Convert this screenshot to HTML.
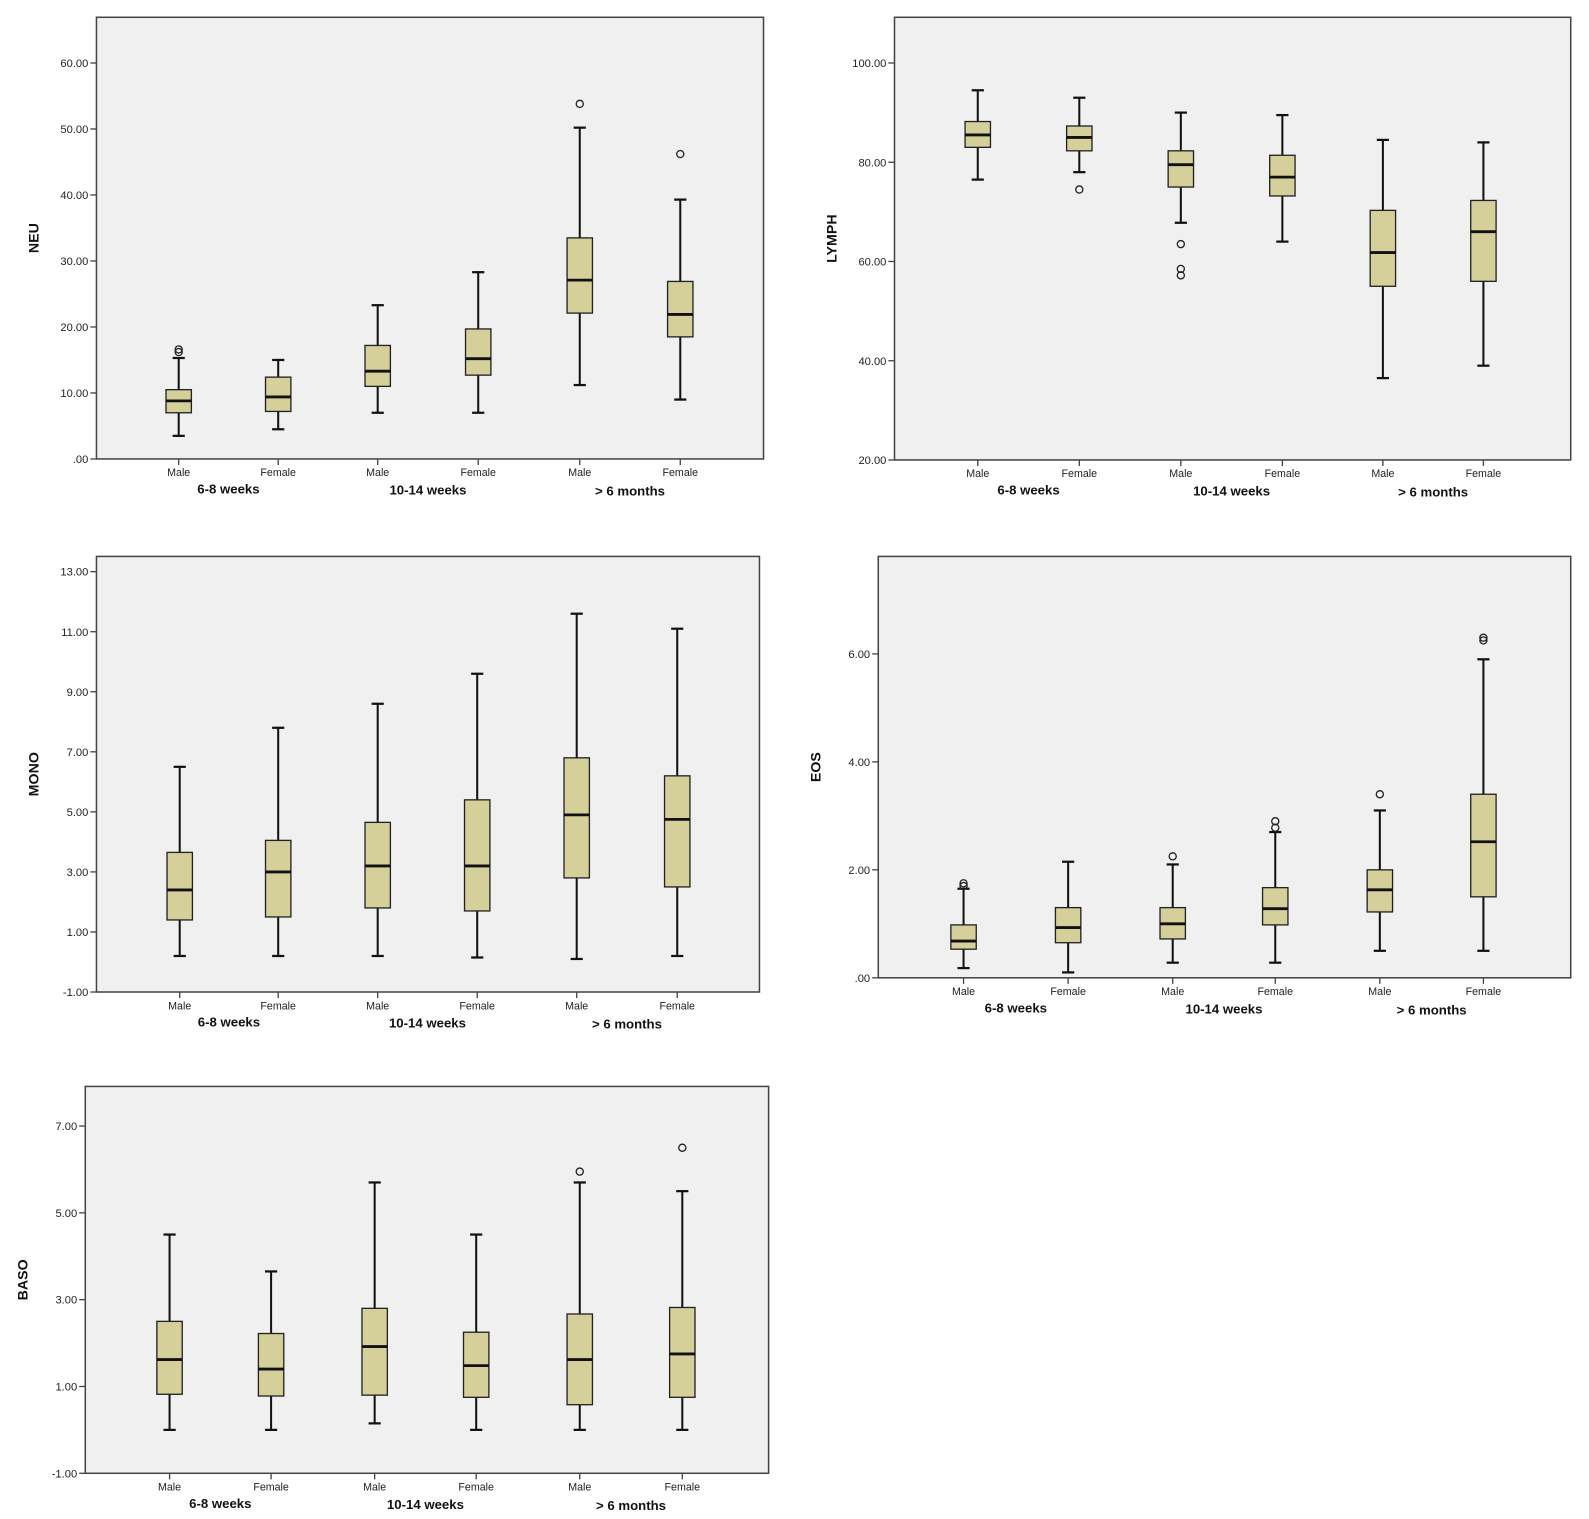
<!DOCTYPE html>
<html><head><meta charset="utf-8">
<style>
html,body{margin:0;padding:0;background:#fff;}
svg{display:block;}
text{font-family:"Liberation Sans",Arial,sans-serif;}
</style></head>
<body>
<svg id="root" width="1589" height="1519" viewBox="0 0 1565 1496" xmlns="http://www.w3.org/2000/svg"></svg>
<script>
// ---- data ----
const categories = ["Male","Female","Male","Female","Male","Female"];
const groups = ["6-8 weeks","10-14 weeks","> 6 months"];

const neuLow  = [3.5, 4.5, 7, 7, 11.2, 9];
const neuQ1   = [7, 7.2, 11, 12.7, 22.1, 18.5];
const neuMed  = [8.8, 9.4, 13.3, 15.2, 27.1, 21.9];
const neuQ3   = [10.5, 12.4, 17.2, 19.7, 33.5, 26.9];
const neuHigh = [15.3, 15, 23.3, 28.3, 50.2, 39.3];
const neuOut  = [[16.2,16.6],[],[],[],[53.8],[46.2]];
const neuTicks = [0,10,20,30,40,50,60];
const neuTickLabels = [".00","10.00","20.00","30.00","40.00","50.00","60.00"];

const lymLow  = [76.5, 78, 67.8, 64, 36.5, 39];
const lymQ1   = [83, 82.3, 75, 73.2, 55, 56];
const lymMed  = [85.5, 85, 79.5, 77, 61.8, 66];
const lymQ3   = [88.2, 87.3, 82.3, 81.4, 70.3, 72.3];
const lymHigh = [94.5, 93, 90, 89.5, 84.5, 84];
const lymOut  = [[],[74.5],[63.5,58.5,57.2],[],[],[]];
const lymTicks = [20,40,60,80,100];
const lymTickLabels = ["20.00","40.00","60.00","80.00","100.00"];

const monLow  = [0.2, 0.2, 0.2, 0.15, 0.1, 0.2];
const monQ1   = [1.4, 1.5, 1.8, 1.7, 2.8, 2.5];
const monMed  = [2.4, 3.0, 3.2, 3.2, 4.9, 4.75];
const monQ3   = [3.65, 4.05, 4.65, 5.4, 6.8, 6.2];
const monHigh = [6.5, 7.8, 8.6, 9.6, 11.6, 11.1];
const monOut  = [[],[],[],[],[],[]];
const monTicks = [-1,1,3,5,7,9,11,13];
const monTickLabels = ["-1.00","1.00","3.00","5.00","7.00","9.00","11.00","13.00"];

const eosLow  = [0.18, 0.1, 0.28, 0.28, 0.5, 0.5];
const eosQ1   = [0.53, 0.65, 0.72, 0.98, 1.22, 1.5];
const eosMed  = [0.68, 0.93, 1.0, 1.28, 1.63, 2.52];
const eosQ3   = [0.98, 1.3, 1.3, 1.67, 2.0, 3.4];
const eosHigh = [1.65, 2.15, 2.1, 2.7, 3.1, 5.9];
const eosOut  = [[1.7,1.75],[],[2.25],[2.78,2.9],[3.4],[6.25,6.3]];
const eosTicks = [0,2,4,6];
const eosTickLabels = [".00","2.00","4.00","6.00"];

const basLow  = [0, 0, 0.15, 0, 0, 0];
const basQ1   = [0.82, 0.78, 0.8, 0.75, 0.58, 0.75];
const basMed  = [1.62, 1.4, 1.92, 1.48, 1.62, 1.75];
const basQ3   = [2.5, 2.22, 2.8, 2.25, 2.67, 2.82];
const basHigh = [4.5, 3.65, 5.7, 4.5, 5.7, 5.5];
const basOut  = [[],[],[],[],[5.95],[6.5]];
const basTicks = [-1,1,3,5,7];
const basTickLabels = ["-1.00","1.00","3.00","5.00","7.00"];

// ---- layout (not data) ----
const NS = "http://www.w3.org/2000/svg";
const root = document.getElementById("root");
function el(tag, attrs, parent){
  const e = document.createElementNS(NS, tag);
  for (const k in attrs) e.setAttribute(k, attrs[k]);
  (parent||root).appendChild(e);
  return e;
}

function panel(cfg){
  const g = el("g", {});
  
  
  const y = v => cfg.y0 + (v - cfg.v0) * (cfg.y1 - cfg.y0) / (cfg.v1 - cfg.v0);
  const xc = i => cfg.x0 + (cfg.x1 - cfg.x0) * (cfg.cx[i]);
  const frame = el("rect", {x:cfg.x0, y:cfg.top, width:cfg.x1-cfg.x0, height:cfg.y0-cfg.top, fill:"#f0f0f0", stroke:"#444", "stroke-width":1.5}, g);
  
  
  // y ticks
  cfg.ticks.forEach((t, i) => {
    const ty = y(t);
    el("line", {x1:cfg.x0-6, x2:cfg.x0, y1:ty, y2:ty, stroke:"#444", "stroke-width":1.3}, g);
    const tx = el("text", {x:cfg.x0-8, y:ty+4, "text-anchor":"end", "font-size":11, fill:"#222"}, g);
    tx.textContent = cfg.tickLabels[i];
    
    
  });
  // y title
  const yt = el("text", {x:0, y:0, "font-size":14, "font-weight":"bold", "text-anchor":"middle", fill:"#111",
    transform:`translate(${cfg.x0-57},${(cfg.top+cfg.y0)/2}) rotate(-90)`}, g);
  yt.textContent = cfg.title;
  
  
  // boxes
  categories.forEach((c, i) => {
    const x = xc(i), w = 12.5;
    el("line", {x1:x, x2:x, y1:cfg.y0, y2:cfg.y0+6, stroke:"#444", "stroke-width":1.3}, g);
    const cl = el("text", {x:x, y:cfg.y0+17, "text-anchor":"middle", "font-size":10.5, fill:"#222"}, g);
    cl.textContent = c;
    
    
    const bg = el("g", {}, g);
    
    
    el("line", {x1:x, x2:x, y1:y(cfg.high[i]), y2:y(cfg.q3[i]), stroke:"#111", "stroke-width":2}, bg);
    el("line", {x1:x, x2:x, y1:y(cfg.q1[i]), y2:y(cfg.low[i]), stroke:"#111", "stroke-width":2}, bg);
    el("line", {x1:x-6, x2:x+6, y1:y(cfg.high[i]), y2:y(cfg.high[i]), stroke:"#111", "stroke-width":2.2}, bg);
    el("line", {x1:x-6, x2:x+6, y1:y(cfg.low[i]), y2:y(cfg.low[i]), stroke:"#111", "stroke-width":2.2}, bg);
    el("rect", {x:x-w, y:y(cfg.q3[i]), width:2*w, height:y(cfg.q1[i])-y(cfg.q3[i]), fill:"#d5cf9a", stroke:"#222", "stroke-width":1.3}, bg);
    el("line", {x1:x-w, x2:x+w, y1:y(cfg.med[i]), y2:y(cfg.med[i]), stroke:"#111", "stroke-width":2.8}, bg);
    cfg.out[i].forEach(o => {
      const c2 = el("circle", {cx:x, cy:y(o), r:3.5, fill:"none", stroke:"#222", "stroke-width":1.3}, bg);
      
      
    });
  });
  groups.forEach((gname, k) => {
    const gx = (xc(2*k) + xc(2*k+1)) / 2;
    const gt = el("text", {x:gx, y:cfg.y0+34+k, "text-anchor":"middle", "font-size":13, "font-weight":"bold", fill:"#111"}, g);
    gt.textContent = gname;
    
    
  });
}
// category centers as fraction of frame width
function fr(x0,x1,arr){ return arr.map(v => (v-x0)/(x1-x0)); }

panel({name:"neu", title:"NEU", x0:95, x1:752, top:17, y0:452, y1:62, v0:0, v1:60,
  cx:fr(95,752,[176,274,372,471,571,670]), ticks:neuTicks, tickLabels:neuTickLabels,
  low:neuLow, q1:neuQ1, med:neuMed, q3:neuQ3, high:neuHigh, out:neuOut});
panel({name:"lymph", title:"LYMPH", x0:881, x1:1547, top:17, y0:453, y1:62, v0:20, v1:100,
  cx:fr(881,1547,[963,1063,1163,1263,1362,1461]), ticks:lymTicks, tickLabels:lymTickLabels,
  low:lymLow, q1:lymQ1, med:lymMed, q3:lymQ3, high:lymHigh, out:lymOut});
panel({name:"mono", title:"MONO", x0:95, x1:748, top:548, y0:977, y1:563, v0:-1, v1:13,
  cx:fr(95,748,[177,274,372,470,568,667]), ticks:monTicks, tickLabels:monTickLabels,
  low:monLow, q1:monQ1, med:monMed, q3:monQ3, high:monHigh, out:monOut});
panel({name:"eos", title:"EOS", x0:865, x1:1547, top:548, y0:963, y1:644, v0:0, v1:6,
  cx:fr(865,1547,[949,1052,1155,1256,1359,1461]), ticks:eosTicks, tickLabels:eosTickLabels,
  low:eosLow, q1:eosQ1, med:eosMed, q3:eosQ3, high:eosHigh, out:eosOut});
panel({name:"baso", title:"BASO", x0:84, x1:757, top:1070, y0:1451, y1:1109, v0:-1, v1:7,
  cx:fr(84,757,[167,267,369,469,571,672]), ticks:basTicks, tickLabels:basTickLabels,
  low:basLow, q1:basQ1, med:basMed, q3:basQ3, high:basHigh, out:basOut});
</script>
</body></html>
